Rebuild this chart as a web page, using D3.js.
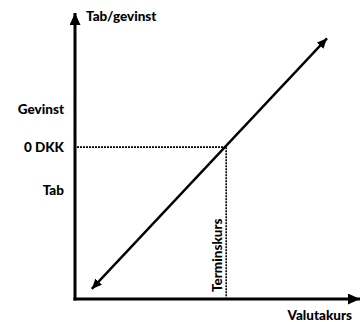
<!DOCTYPE html>
<html>
<head>
<meta charset="utf-8">
<script src="https://cdn.jsdelivr.net/npm/d3@7"></script>
<style>
  html, body { margin: 0; padding: 0; background: #fff; }
  svg { display: block; }
  text { font-family: Lato, "Open Sans", sans-serif; font-weight: 900; fill: #000; }
</style>
</head>
<body>
<svg id="chart" width="361" height="322"></svg>
<script>
// Payoff of a forward contract against the exchange rate (schematic)
const payoffX = [6, 90];        // valutakurs at the two ends of the payoff line
const payoffY = [-56, 43];      // tab/gevinst at those ends
const forwardRate = 54;         // terminskurs
const zeroLevel = 0;            // 0 DKK

const yLabels = ["Gevinst", "0 DKK", "Tab"];
const yLabelValues = [15, 0, -17];
const xAxisTitle = "Valutakurs";
const yAxisTitle = "Tab/gevinst";
const forwardLabel = "Terminskurs";

const svg = d3.select("#chart");
const x = d3.scaleLinear().domain([0, 100]).range([75, 355]);
const y = d3.scaleLinear().domain([-60, 53]).range([299, 13]);

const defs = svg.append("defs");
function marker(id, w, h) {
  defs.append("marker")
    .attr("id", id)
    .attr("viewBox", `0 0 ${w} ${h}`)
    .attr("refX", w).attr("refY", h / 2)
    .attr("markerWidth", w).attr("markerHeight", h)
    .attr("markerUnits", "userSpaceOnUse")
    .attr("orient", "auto")
    .append("path")
    .attr("d", `M0,0L${w},${h / 2}L0,${h}Z`)
    .attr("fill", "#000");
}
marker("axisArrow", 12, 11);
marker("lineArrow", 10, 9);

// axes
svg.append("line")
  .attr("x1", x(0)).attr("y1", y(-60) + 1.5)
  .attr("x2", x(0)).attr("y2", y(53))
  .attr("stroke", "#000").attr("stroke-width", 3)
  .attr("marker-end", "url(#axisArrow)");
svg.append("line")
  .attr("x1", x(0) - 1.5).attr("y1", y(-60))
  .attr("x2", 360).attr("y2", y(-60))
  .attr("stroke", "#000").attr("stroke-width", 3)
  .attr("marker-end", "url(#axisArrow)");

// dotted guides at 0 DKK and the forward rate
svg.append("line")
  .attr("x1", x(0) + 2).attr("y1", y(zeroLevel))
  .attr("x2", x(forwardRate)).attr("y2", y(zeroLevel))
  .attr("stroke", "#000").attr("stroke-width", 1.6)
  .attr("stroke-dasharray", "2,1");
svg.append("line")
  .attr("x1", x(forwardRate)).attr("y1", y(zeroLevel))
  .attr("x2", x(forwardRate)).attr("y2", y(-60) - 1.5)
  .attr("stroke", "#000").attr("stroke-width", 1.6)
  .attr("stroke-dasharray", "2,1");

// payoff line with arrows at both ends
const mid = [(payoffX[0] + payoffX[1]) / 2, (payoffY[0] + payoffY[1]) / 2];
const line = d3.line().x(d => x(d[0])).y(d => y(d[1]));
svg.append("path")
  .attr("d", line([[mid[0], mid[1]], [payoffX[1], payoffY[1]]]))
  .attr("stroke", "#000").attr("stroke-width", 2.4).attr("fill", "none")
  .attr("marker-end", "url(#lineArrow)");
svg.append("path")
  .attr("d", line([[mid[0], mid[1]], [payoffX[0], payoffY[0]]]))
  .attr("stroke", "#000").attr("stroke-width", 2.4).attr("fill", "none")
  .attr("marker-end", "url(#lineArrow)");

// labels
svg.selectAll("text.ylab")
  .data(yLabels)
  .join("text")
  .attr("class", "ylab")
  .attr("x", 64)
  .attr("y", (d, i) => y(yLabelValues[i]) + 4.5)
  .attr("text-anchor", "end")
  .attr("font-size", 13.5)
  .text(d => d);

svg.append("text")
  .attr("x", 86).attr("y", 21)
  .attr("font-size", 13.5)
  .text(yAxisTitle);

svg.append("text")
  .attr("x", 352).attr("y", 320)
  .attr("text-anchor", "end")
  .attr("font-size", 13.5)
  .text(xAxisTitle);

svg.append("text")
  .attr("transform", `translate(${x(forwardRate) - 4},292) rotate(-90)`)
  .attr("font-size", 13.5)
  .text(forwardLabel);
</script>
</body>
</html>
